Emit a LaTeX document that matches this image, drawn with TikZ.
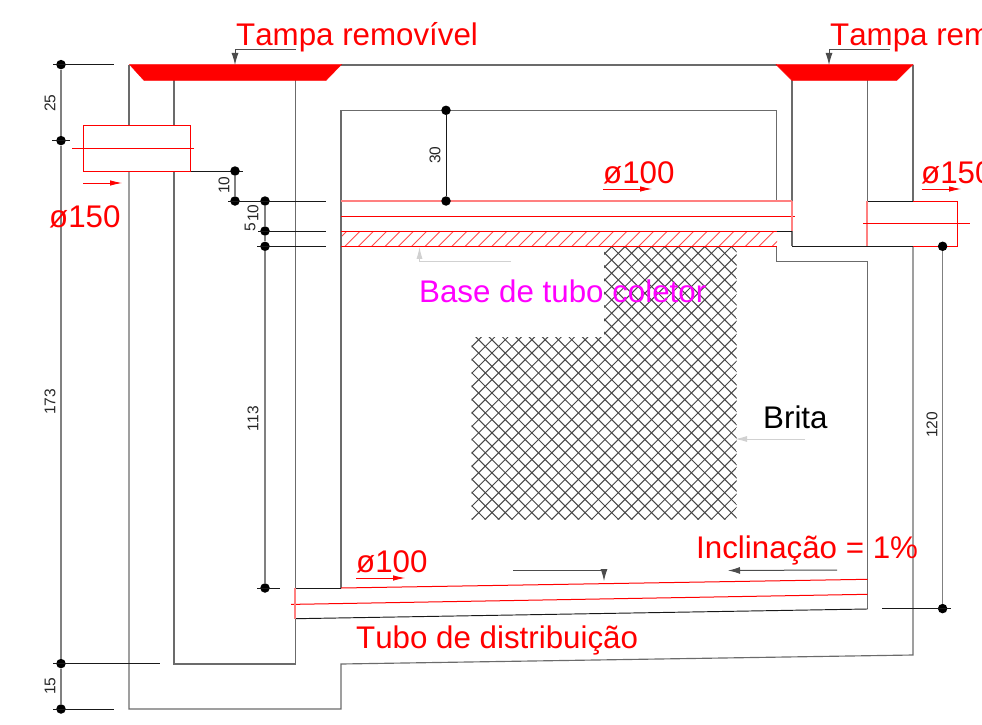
\documentclass[tikz,border=0pt]{standalone}
\usepackage{fontspec}
\setmainfont[Kerning=Off]{Liberation Sans}
\usetikzlibrary{arrows.meta}
\definecolor{puremagenta}{RGB}{255,0,255}
\tikzset{
  wall/.style={draw=black!58,line width=1.15pt},
  thin line/.style={draw=black!90,line width=0.95pt},
  dimline/.style={draw=black!50,line width=1.5pt},
  pipe/.style={draw=red,line width=1pt},
  softpipe/.style={draw=red!50,line width=1.1pt},
  lid/.style={fill=red,draw=red,line width=0.4pt},
  dimdot/.style={circle,fill=black,inner sep=0pt,minimum size=9.5pt},
  big/.style={inner sep=0pt,anchor=base west,font=\fontsize{31.3}{31.3}\selectfont,text=red},
  dimtext/.style={inner sep=0pt,rotate=90,font=\fontsize{15.5}{15.5}\selectfont,text=black!85},
  redarrow/.style={draw=red,line width=0.8pt,-{Latex[length=12pt,width=5.5pt]}},
  blackarrow/.style={draw=black!70,line width=1pt,-{Latex[length=12pt,width=7pt]}},
  lightarrow/.style={draw=black!18,line width=1pt,-{Latex[length=12pt,width=6pt]}},
}
\begin{document}
\begin{tikzpicture}[x=1pt,y=-1pt]
\useasboundingbox (0,0) rectangle (982,725);
% hatch of the collector base
\begin{scope}
  \clip (341,231.5) rectangle (777,246.3);
  \foreach \k in {0,...,34} {
    \draw[red!70,line width=0.9pt] ({331+13.35*\k},247) -- ({347+13.35*\k},231);
  }
\end{scope}
% gravel cross hatch
\begin{scope}
  \clip (604,246.3) -- (736.5,246.3) -- (736.5,519.6) -- (471.5,519.6) -- (471.5,337) -- (604,337) -- cycle;
  \foreach \k in {-14,...,20} {
    \draw[black!72,line width=1pt] ({991.3+13.3*\k-240},240) -- ({991.3+13.3*\k-525},525);
  }
  \foreach \k in {0,...,41} {
    \draw[black!72,line width=1pt] ({240-47.3+13.3*\k},240) -- ({525-47.3+13.3*\k},525);
  }
\end{scope}
% walls
\draw[wall] (129,125.3) -- (129,65);
\draw[wall] (129,171) -- (129,709) -- (341,709) -- (341,664) -- (913,655) -- (913,246.3);
\draw[wall] (174,80) -- (174,125.3);
\draw[wall] (174,171) -- (174,664) -- (295.5,664) -- (295.5,618.7);
\draw[wall] (295.5,80) -- (295.5,588);
\draw[wall] (341,65) -- (777,65);
\draw[wall] (341,588) -- (341,110.5) -- (776.5,110.5) -- (776.5,201);
\draw[wall] (776.5,246.3) -- (776.5,261.5) -- (867.5,261.5) -- (867.5,609);
\draw[wall] (792,80) -- (792,246.3);
\draw[wall] (867.5,80) -- (867.5,201);
\draw[wall] (913,65) -- (913,201);
\draw[thin line] (129,125.3) -- (174,125.3);
\draw[thin line] (129,171) -- (243,171);
\draw[thin line] (776.5,201) -- (792,201);
\draw[thin line] (776.5,231.3) -- (792,231.3);
\draw[thin line] (792,246.3) -- (913,246.3);
\draw[thin line] (867.5,201) -- (913,201);
\draw[thin line] (295.5,588) -- (341,588);
\draw[thin line] (295.5,618.7) -- (867.5,609);
% left inlet pipe
\draw[pipe] (83.3,125.3) rectangle (190,171);
\draw[pipe] (72,148) -- (194,148);
% collector pipe
\draw[softpipe] (341,201) -- (792,201);
\draw[pipe] (341,216) -- (795,216);
\draw[pipe] (341,231.3) -- (777,231.3);
\draw[pipe] (341,246.3) -- (777,246.3);
\draw[softpipe] (792,201) -- (792,231.3);
% right outlet pipe
\draw[pipe] (913,201) -- (957.7,201) -- (957.7,246.3) -- (913,246.3);
\draw[softpipe] (867,201) -- (867,246.3);
\draw[pipe] (863,223.7) -- (970,223.7);
% distribution pipe
\draw[pipe] (341,588) -- (867.5,579.3);
\draw[pipe] (291,604.4) -- (867.5,594.3);
\draw[softpipe] (295,588) -- (295,618.7);
% lids
\draw[lid] (129.5,64.5) -- (341.5,64.5) -- (326,80.5) -- (144,80.5) -- cycle;
\draw[lid] (776,64.5) -- (913,64.5) -- (896.7,80.5) -- (792,80.5) -- cycle;
% dimension points
\node[dimdot] (d1) at (61,64.6) {};
\node[dimdot] (d2) at (61,140.6) {};
\node[dimdot] (d3) at (61,663.6) {};
\node[dimdot] (d4) at (61,709) {};
\node[dimdot] (e1) at (235,171) {};
\node[dimdot] (e2) at (235,201) {};
\node[dimdot] (f1) at (265,201) {};
\node[dimdot] (f2) at (265,231) {};
\node[dimdot] (f3) at (265,246.3) {};
\node[dimdot] (f4) at (265,588) {};
\node[dimdot] (g1) at (446,110.3) {};
\node[dimdot] (g2) at (446,201) {};
\node[dimdot] (h1) at (942.6,246.3) {};
\node[dimdot] (h2) at (942.6,608.6) {};
\draw[dimline] (d1) -- (d2);
\draw[dimline] (d2) -- (d3);
\draw[dimline] (d3) -- (d4);
\draw[dimline] (e1) -- (e2);
\draw[dimline] (f1) -- (f2);
\draw[dimline] (f2) -- (f3);
\draw[dimline] (f3) -- (f4);
\draw[thin line] (g1) -- (g2);
\draw[dimline] (h1) -- (h2);
% extension lines
\draw[thin line] (53,64.6) -- (114,64.6);
\draw[thin line] (52,140.6) -- (70,140.6);
\draw[thin line] (53,663.6) -- (159.5,663.6);
\draw[thin line] (53,709) -- (114,709);
\draw[thin line] (228,201) -- (326,201);
\draw[thin line] (258,231) -- (326,231);
\draw[thin line] (257,246.3) -- (326,246.3);
\draw[thin line] (257,588) -- (280,588);
\draw[thin line] (882,608.6) -- (951,608.6);
% dimension texts
\node[dimtext] (t25) at (50,103) {25};
\node[dimtext] (t173) at (50,402) {173};
\node[dimtext] (t15) at (50,686) {15};
\node[dimtext] (t10a) at (224,185) {10};
\node[dimtext] (t10b) at (253,213) {10};
\node[dimtext] (t5) at (250,227.5) {5};
\node[dimtext] (t113) at (253,419) {113};
\node[dimtext] (t30) at (435,155) {30};
\node[dimtext] (t120) at (932,425) {120};
% labels
\node[big] (tampaA) at (236,46) {Tampa removível};
\node[big] (tampaB) at (830,46) {Tampa removível};
\node[big] (phiA) at (49,227) {ø150};
\node[big] (phiB) at (603,183) {ø100};
\node[big] (phiC) at (921,183) {ø150};
\node[big] (phiD) at (356,572) {ø100};
\node[big,text=puremagenta] (base) at (419,302.5) {Base de tubo coletor};
\node[big,text=black] (brita) at (763,428) {Brita};
\node[big] (incl) at (696,558.5) {Inclinação = 1\%};
\node[big] (tubo) at (356,648) {Tubo de distribuição};
% leaders and arrows
\draw[redarrow] (83,183) -- (122,183);
\draw[redarrow] (603,189) -- (652,189);
\draw[redarrow] (921.5,189) -- (961,189);
\draw[redarrow] (356,578) -- (405,578);
\draw[blackarrow] (296,49.5) -- (235,49.5) -- (235,65);
\draw[blackarrow] (890,49.5) -- (829,49.5) -- (829,65);
\draw[blackarrow] (513,570) -- (604,570) -- (604,581);
\draw[blackarrow] (837,570) -- (728,570.5);
\draw[lightarrow] (511,261) -- (419.5,261) -- (419.5,246.8);
\draw[lightarrow] (805,439) -- (735,439);
\end{tikzpicture}
\end{document}
